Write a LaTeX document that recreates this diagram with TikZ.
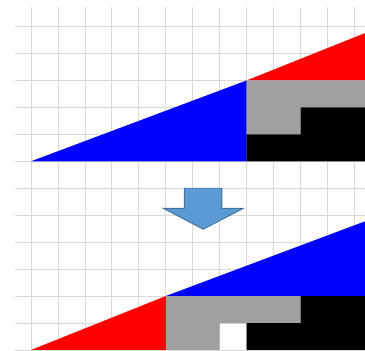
\documentclass[tikz,border=0pt]{standalone}
\usepackage{tikz}
\usetikzlibrary{positioning}
\definecolor{gridgray}{HTML}{D9D9D9}
\definecolor{piecegray}{HTML}{A0A0A0}
\definecolor{arrowfill}{HTML}{5B9BD5}
\definecolor{arrowline}{HTML}{41719C}

\begin{document}
\begin{tikzpicture}[
  x=26.95pt,y=26.95pt,
  gridline/.style={gridgray,line width=0.7pt},
  piece/.style={draw=none},
  bigtri/.style={piece,fill=blue},
  smalltri/.style={piece,fill=red},
  lgray/.style={piece,fill=piecegray},
  lblack/.style={piece,fill=black},
  downarrow/.style={fill=arrowfill,draw=arrowline,line width=0.9pt,line join=miter}
]
\useasboundingbox (-1.150,-7.002) rectangle (12.393,5.985);
\clip (-1.150,-7.002) rectangle (12.393,5.985);
% grid
\foreach \i in {0,...,12} \draw[gridline] (\i,5.725) -- (\i,-7.1);
\foreach \j in {-7,...,5} \draw[gridline] (-0.594,\j) -- (12.5,\j);
% upper arrangement
\fill[bigtri] (0,0) -- (8,0) -- (8,3) -- cycle;
\fill[smalltri] (8,3) -- (13,3) -- (13,5) -- cycle;
\fill[lgray] (8,3) -- (13,3) -- (13,2) -- (10,2) -- (10,1) -- (8,1) -- cycle;
\fill[lblack] (10,2) -- (13,2) -- (13,0) -- (8,0) -- (8,1) -- (10,1) -- cycle;
% lower arrangement
\fill[smalltri] (0,-7) -- (5,-7) -- (5,-5) -- cycle;
\fill[bigtri] (5,-5) -- (13,-5) -- (13,-2) -- cycle;
\fill[lgray] (5,-5) -- (10,-5) -- (10,-6) -- (7,-6) -- (7,-7) -- (5,-7) -- cycle;
\fill[lblack] (10,-5) -- (13,-5) -- (13,-7) -- (8,-7) -- (8,-6) -- (10,-6) -- cycle;
% arrow
\draw[downarrow] (5.69,-1.0) -- (7.08,-1.0) -- (7.08,-1.744) -- (7.88,-1.744)
  -- (6.39,-2.52) -- (4.91,-1.744) -- (5.69,-1.744) -- cycle;
\end{tikzpicture}
\end{document}
